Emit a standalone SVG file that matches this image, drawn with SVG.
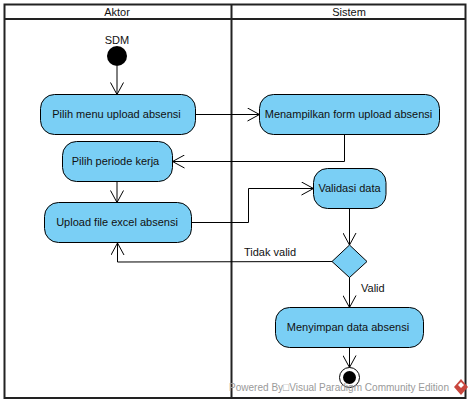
<svg xmlns="http://www.w3.org/2000/svg" width="473" height="404" viewBox="0 0 473 404">
<defs>
<marker id="open" markerWidth="14" markerHeight="14" refX="13" refY="7" orient="auto" markerUnits="userSpaceOnUse"><path d="M1 0.5L13 7L1 13.5" fill="none" stroke="#000" stroke-width="1"/></marker>
</defs>
<style>
text{font-family:"Liberation Sans",Arial,sans-serif;font-size:11px;fill:#111}
.m{text-anchor:middle}
.a{fill:#7acff5;stroke:#000;stroke-width:1}
.c{fill:none;stroke:#000;stroke-width:1;marker-end:url(#open)}
.f{fill:none;stroke:#222;stroke-width:2}
</style>
<rect width="473" height="404" fill="#fff"/>
<g id="swimlanes">
<rect class="f" x="4.500" y="4.500" width="461" height="393.500"/>
<path class="f" d="M4.500 19H465.500M231.500 4.500V398"/>
<text class="m" x="117" y="16">Aktor</text>
<text class="m" x="349" y="16">Sistem</text>
</g>
<g id="connectors">
<path class="c" d="M117 66V94.500"/>
<path class="c" d="M195.500 114.500H259.500"/>
<path class="c" d="M344.500 134.500V161.500H172.500"/>
<path class="c" d="M117 181.500V202.500"/>
<path class="c" d="M191.500 222.500H248.500V188.500H313.500"/>
<path class="c" d="M349.500 208.500V245"/>
<path class="c" d="M332 261.500L117.500 262V243"/>
<path class="c" d="M349.500 277V307.500"/>
<path class="c" d="M349.500 347.500V367.500"/>
<text x="244" y="256">Tidak valid</text>
<text x="361" y="292">Valid</text>
</g>
<g id="start"><circle cx="117" cy="56" r="10" fill="#000"/><text class="m" x="117" y="44">SDM</text></g>
<g id="pilih-menu"><rect class="a" x="40.500" y="94.500" width="155" height="40" rx="14"/><text class="m" x="116.500" y="118">Pilih menu upload absensi</text></g>
<g id="pilih-periode"><rect class="a" x="62.500" y="141.500" width="110" height="40" rx="14"/><text class="m" x="115.500" y="165">Pilih periode kerja</text></g>
<g id="upload-file"><rect class="a" x="44.500" y="202.500" width="147" height="40" rx="14"/><text class="m" x="117" y="226">Upload file excel absensi</text></g>
<g id="menampilkan"><rect class="a" x="259.500" y="94.500" width="180" height="40" rx="14"/><text class="m" x="348.500" y="118">Menampilkan form upload absensi</text></g>
<g id="validasi"><rect class="a" x="313.500" y="168.500" width="72.500" height="40" rx="14"/><text class="m" x="349.500" y="192">Validasi data</text></g>
<g id="decision"><path class="a" d="M349.500 245L367 261.500L349.500 277.500L332 261.500Z"/></g>
<g id="menyimpan"><rect class="a" x="275.500" y="307.500" width="148" height="40" rx="14"/><text class="m" x="348" y="331">Menyimpan data absensi</text></g>
<g id="end"><circle cx="349.500" cy="377.500" r="10" fill="#fff" stroke="#000"/><circle cx="349.500" cy="377.500" r="6.500" fill="#000"/></g>
<g id="watermark">
<text x="229" y="391" textLength="220" lengthAdjust="spacingAndGlyphs" style="fill:#9a9a9a">Powered By□Visual Paradigm Community Edition</text>
<path d="M461 379L468 387L461 395L454 387Z" fill="#c9463d"/>
<path d="M461 382L464 385L461 388L458 385Z" fill="#fff"/>
</g>
</svg>
